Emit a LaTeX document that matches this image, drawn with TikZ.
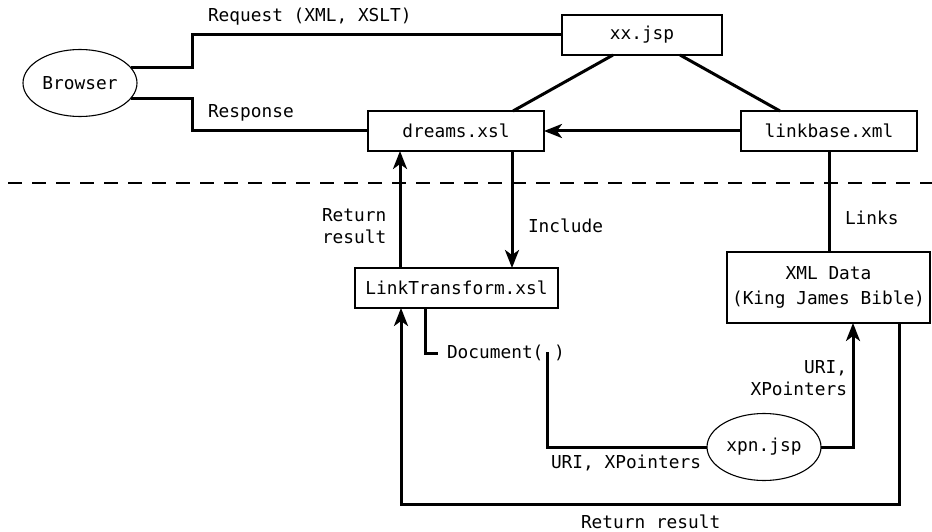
\documentclass[tikz,border=0pt]{standalone}
\usepackage{fontspec}
\setmonofont{DejaVu Sans Mono}
\usetikzlibrary{arrows.meta,shapes.geometric}
\tikzset{
  every node/.style={font=\ttfamily\fontsize{17.8pt}{22pt}\selectfont},
  box/.style={draw, line width=1.3pt, inner sep=0pt, outer sep=0pt, minimum height=40pt},
  oval/.style={draw, ellipse, line width=1.1pt, inner sep=0pt, outer sep=0pt,
               minimum width=114pt, minimum height=67pt},
  lbl/.style={inner sep=0pt, outer sep=0pt},
  wire/.style={line width=3pt},
  arr/.style={wire, -{Stealth[length=18pt,width=14pt,inset=5pt]}},
  divider/.style={line width=1.5pt, dash pattern=on 14pt off 10pt},
}
\begin{document}
\begin{tikzpicture}[x=1pt, y=-1pt]
\useasboundingbox (0,0) rectangle (932,532);

% nodes
\node[oval] (browser) at (80,83) {Browser};
\node[box, minimum width=160pt] (xx) at (642,35) {xx.jsp};
\node[box, minimum width=176pt] (dreams) at (456,131) {dreams.xsl};
\node[box, minimum width=176pt] (linkbase) at (829,131) {linkbase.xml};
\node[box, minimum width=203pt] (lt) at (456.5,288) {LinkTransform.xsl};
\node[box, minimum width=203pt, minimum height=71pt, align=center,
      font=\ttfamily\fontsize{17.8pt}{25pt}\selectfont] (xml) at (828.5,287.5)
      {XML Data\\(King James Bible)};
\node[oval] (xpn) at (764,447) {xpn.jsp};

% labels
\node[lbl, anchor=west] (lreq) at (208,17) {Request (XML, XSLT)};
\node[lbl, anchor=west] (lresp) at (208,113) {Response};
\node[lbl, anchor=west, align=left] (lret1) at (322,226) {Return\\result};
\node[lbl, anchor=west] (linc) at (528,226) {Include};
\node[lbl, anchor=west] (llinks) at (845,218) {Links};
\node[lbl, anchor=east, align=right] (luri1) at (847,378) {URI,\\XPointers};
\node[lbl, anchor=west, inner xsep=9pt] (doc) at (438,353) {Document( )};
\node[lbl, anchor=west] (luri2) at (551,463) {URI, XPointers};
\node[lbl, anchor=west] (lret2) at (581,522) {Return result};
\coordinate (docgap) at (547,352);

% request / response
\draw[wire] (browser.17) -| (192,35) -- (xx.west);
\draw[wire] (browser.-17) -| (192,131) -- (dreams.west);

% xx.jsp links
\draw[wire] ([xshift=51pt]xx.south west) -- ([xshift=-31pt]dreams.north east);
\draw[wire] ([xshift=-42pt]xx.south east) -- ([xshift=39pt]linkbase.north west);
\draw[arr] (linkbase.west) -- (dreams.east);

% divider
\draw[divider] (8,183) -- (932,183);

% dreams <-> LinkTransform
\draw[arr] ([xshift=45pt]lt.north west) -- ([xshift=32pt]dreams.south west);
\draw[arr] ([xshift=-32pt]dreams.south east) -- ([xshift=-46pt]lt.north east);

% links to data
\draw[wire] (linkbase.south) -- (linkbase.south |- xml.north);

% document() call through xpn.jsp
\draw[wire] ([xshift=70pt]lt.south west) |- (doc.west);
\draw[wire] (docgap) |- (xpn.west);
\draw[arr] (xpn.east) -| ([xshift=126pt]xml.south west);

% return result loop
\draw[arr] ([xshift=-31pt]xml.south east) -- ++(0,181) -| ([xshift=46pt]lt.south west);
\end{tikzpicture}
\end{document}
